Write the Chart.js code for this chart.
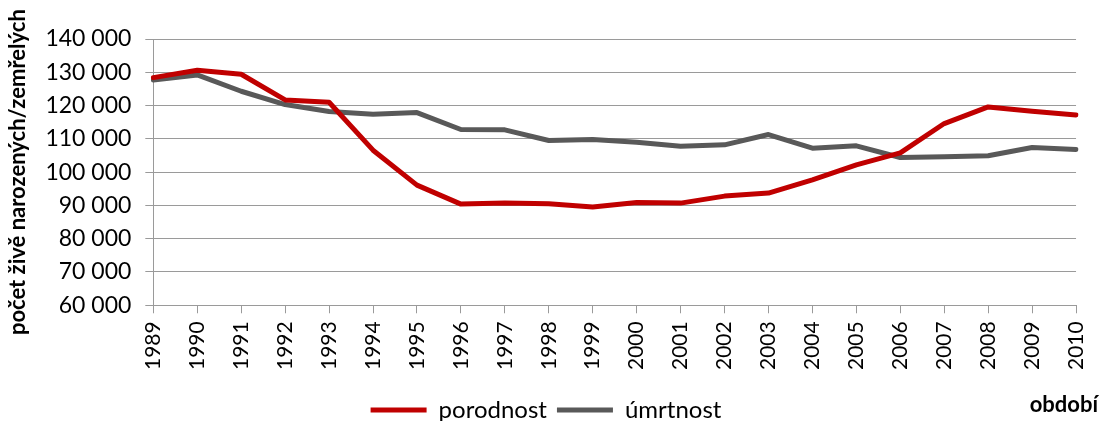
<!DOCTYPE html>
<html>
<head>
<meta charset="utf-8">
<script src="https://cdn.jsdelivr.net/npm/chart.js@4"></script>
<style>
  html, body { margin: 0; padding: 0; background: #fff; overflow: hidden; }
  #wrap { width: 1100px; height: 432px; }
</style>
</head>
<body>
<div id="wrap"><canvas id="chart"></canvas></div>
<script>
const years = ['1989', '1990', '1991', '1992', '1993', '1994', '1995', '1996', '1997', '1998', '1999',
  '2000', '2001', '2002', '2003', '2004', '2005', '2006', '2007', '2008', '2009', '2010'];

// porodnost (births)
const births = [128400, 130600, 129400, 121700, 121000, 106600, 96100, 90400, 90700, 90500, 89500,
  90900, 90700, 92800, 93700, 97700, 102200, 105800, 114600, 119600, 118300, 117200];

// úmrtnost (deaths)
const deaths = [127700, 129200, 124300, 120300, 118200, 117400, 117900, 112800, 112700, 109500, 109800,
  109000, 107800, 108200, 111300, 107200, 107900, 104400, 104600, 104900, 107400, 106800];

const yTicks = { min: 60000, max: 140000, step: 10000 };
const yTitle = 'počet živě narozených/zemřelých';
const xTitle = 'období';

const RED = '#C00000';
const GREY = '#595959';
const GRID = '#9a9a9a';

// corner label "období" drawn next to the legend
const cornerTitle = {
  id: 'cornerTitle',
  afterDraw(chart) {
    const ctx = chart.ctx;
    const lg = chart.legend;
    ctx.save();
    ctx.font = 'bold 22px Lato';
    ctx.fillStyle = '#000';
    ctx.textAlign = 'right';
    ctx.textBaseline = 'middle';
    ctx.fillText(xTitle, chart.width - 2, lg.top + lg.height / 2 - 5);
    ctx.restore();
  }
};

new Chart(document.getElementById('chart'), {
  type: 'line',
  data: {
    labels: years,
    datasets: [
      {
        label: 'porodnost',
        data: births,
        borderColor: RED,
        backgroundColor: RED,
        borderWidth: 5,
        pointRadius: 0,
        borderCapStyle: 'round',
        borderJoinStyle: 'round',
        tension: 0
      },
      {
        label: 'úmrtnost',
        data: deaths,
        borderColor: GREY,
        backgroundColor: GREY,
        borderWidth: 5,
        pointRadius: 0,
        borderCapStyle: 'round',
        borderJoinStyle: 'round',
        tension: 0
      }
    ]
  },
  options: {
    responsive: true,
    maintainAspectRatio: false,
    animation: false,
    layout: { padding: { left: 5, right: 13, top: 39, bottom: 0 } },
    plugins: {
      legend: {
        position: 'bottom',
        labels: {
          color: '#000',
          font: { family: 'Lato', size: 24 },
          boxWidth: 56,
          boxHeight: 5,
          padding: 10,
          generateLabels(chart) {
            const items = Chart.defaults.plugins.legend.labels.generateLabels(chart);
            items.forEach(it => { it.lineWidth = 0; });
            return items;
          }
        }
      },
      tooltip: { enabled: false }
    },
    scales: {
      x: {
        offset: false,
        grid: {
          drawOnChartArea: false,
          drawTicks: true,
          tickLength: 8,
          color: GRID
        },
        border: { color: GRID, width: 1 },
        ticks: {
          color: '#000',
          font: { family: 'Lato', size: 21, lineHeight: 0.76 },
          minRotation: 90,
          maxRotation: 90,
          autoSkip: false,
          padding: 8
        },
        // empty title used only as a spacer above the legend
        title: {
          display: true,
          text: '',
          font: { size: 10, lineHeight: 1 },
          padding: 0
        }
      },
      y: {
        min: yTicks.min,
        max: yTicks.max,
        grid: {
          color: GRID,
          tickLength: 8
        },
        border: { color: GRID, width: 1 },
        ticks: {
          stepSize: yTicks.step,
          color: '#000',
          font: { family: 'Lato', size: 23 },
          padding: 14,
          callback: v => v.toLocaleString('en-US').replace(/,/g, ' ')
        },
        title: {
          display: true,
          text: yTitle,
          color: '#000',
          font: { family: 'Lato', size: 22, weight: 'bold' },
          padding: { top: 0, bottom: 0 }
        }
      }
    }
  },
  plugins: [cornerTitle]
});
</script>
</body>
</html>
